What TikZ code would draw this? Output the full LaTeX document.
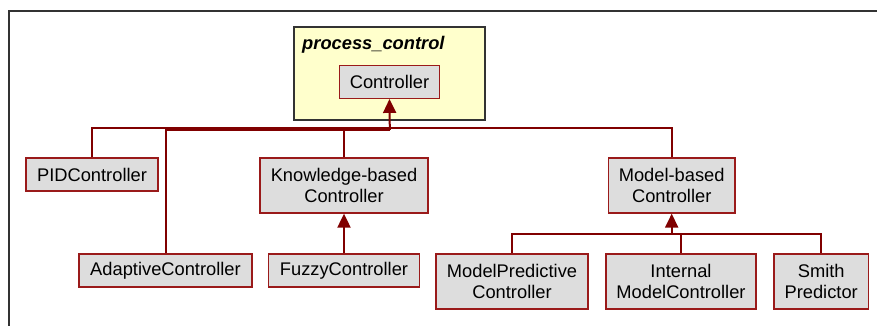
\documentclass[tikz,border=0pt]{standalone}
\usepackage{fontspec}
\setmainfont{Liberation Sans}
\usetikzlibrary{arrows.meta}
\definecolor{boxfill}{HTML}{DDDDDD}
\definecolor{boxline}{HTML}{9A1A1A}
\definecolor{conncol}{HTML}{800000}
\definecolor{pkgfill}{HTML}{FFFFCC}
\definecolor{framecol}{HTML}{333333}
\begin{document}
\begin{tikzpicture}[x=1pt,y=-1pt,
  cls/.style={draw=boxline,fill=boxfill,line width=1.3pt,rectangle,inner sep=0pt,
    align=center,font=\fontsize{18.3}{21.7}\selectfont},
  conn/.style={draw=conncol,line width=2pt},
  gen/.style={conn,-{Triangle[width=13pt,length=14pt]}}]
\useasboundingbox (0,0) rectangle (877,326);
\draw[framecol,line width=1.5pt] (9,326) -- (9,11) -- (877,11);
% package
\node[draw=framecol,fill=pkgfill,line width=1.3pt,rectangle,inner sep=0pt,
  minimum width=191pt,minimum height=93pt] (pkg) at (389.5,73.5) {};
\node[anchor=west,inner sep=0pt,font=\fontsize{18.3}{21.7}\selectfont\bfseries\itshape] (pkglabel) at (302,45) {process\_control};
% classes
\node[cls,minimum width=100pt,minimum height=32.6pt] (ctrl) at (389.5,82) {Controller};
\node[cls,minimum width=132pt,minimum height=33pt] (pid) at (92,174.5) {PIDController};
\node[cls,minimum width=168pt,minimum height=55pt] (kb) at (344,185.5) {Knowledge-based\\Controller};
\node[cls,minimum width=126.5pt,minimum height=55pt] (mb) at (671.7,185.5) {Model-based\\Controller};
\node[cls,minimum width=173pt,minimum height=33pt] (ad) at (165.5,270.5) {AdaptiveController};
\node[cls,minimum width=150.5pt,minimum height=33pt] (fz) at (344,270.5) {FuzzyController};
\node[cls,minimum width=152pt,minimum height=55pt] (mpc) at (512,281.5) {ModelPredictive\\Controller};
\node[cls,minimum width=150pt,minimum height=55pt] (imc) at (681,281.5) {Internal\\ModelController};
\node[cls,minimum width=94.5pt,minimum height=55pt] (sp) at (821.2,281.5) {Smith\\Predictor};
% connectors
\coordinate (j1) at (389.8,128);
\coordinate (j1b) at (389.8,130);
\coordinate (j2) at (671.7,234);
\draw[conn] (pid.north) |- (j1);
\draw[conn] (kb.north) |- (j1);
\draw[conn] (mb.north) |- (j1);
\draw[conn] (ad.north) |- (j1b);
\draw[gen] (j1b) -- (ctrl.south);
\draw[gen] (fz.north) -- (kb.south);
\draw[conn] (mpc.north) |- (j2);
\draw[conn] (imc.north) |- (j2);
\draw[conn] (sp.north) |- (j2);
\draw[gen] (j2) -- (mb.south);
\end{tikzpicture}
\end{document}
